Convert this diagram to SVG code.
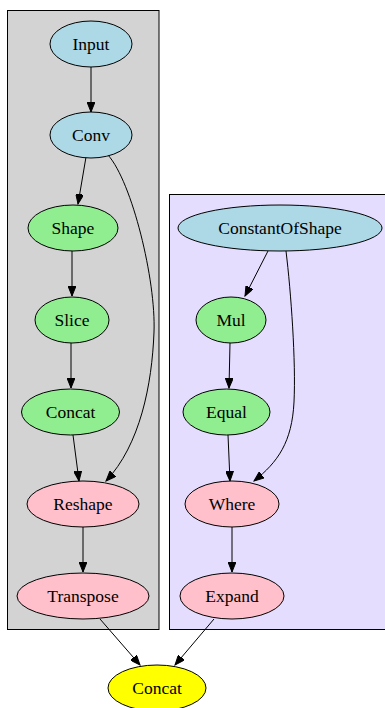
<svg xmlns="http://www.w3.org/2000/svg" width="385" height="708" viewBox="0 0 385 708">
<style>
.n ellipse{stroke:#000;stroke-width:1}
.n text{font-family:"Liberation Serif","Times New Roman",serif;font-size:17.5px;text-anchor:middle;fill:#000}
.blue{fill:#add8e6}.green{fill:#90ee90}.pink{fill:#ffc0cb}.yellow{fill:#ffff00}
#edges path{fill:none;stroke:#000;stroke-width:1;marker-end:url(#ah)}
.cl{stroke:#000;stroke-width:1}
</style>
<defs>
<marker id="ah" markerUnits="userSpaceOnUse" markerWidth="11" markerHeight="8" refX="10" refY="4" orient="auto">
<path d="M0,0 L10,4 L0,8 Z" fill="#000" stroke="#000" stroke-width="1"/>
</marker>
</defs>
<rect width="385" height="708" fill="#fff"/>
<g id="cluster_left"><rect class="cl" x="7.5" y="10.5" width="151.5" height="619" fill="#d3d3d3"/></g>
<g id="cluster_right"><rect class="cl" x="169.5" y="194.5" width="220" height="435" fill="#e5ddfd"/></g>
<g id="edges">
<path d="M91,67 L91,112"/>
<path d="M86,157 L78,204"/>
<path d="M108,155 C132,182 156,280 154,332 C152,385 140,445 106,481"/>
<path d="M72,250 L72,296"/>
<path d="M71,343 L71,388"/>
<path d="M73,435 L79,481"/>
<path d="M83,527 L83,572"/>
<path d="M100,619 L140,665"/>
<path d="M214,619 L175,665"/>
<path d="M268,251 L245,296"/>
<path d="M286,251 C291,292 296,362 294,402 C292,442 278,462 254,481"/>
<path d="M230,343 L229,388"/>
<path d="M228,435 L230,481"/>
<path d="M232,527 L232,572"/>
</g>
<g id="node_input" class="n"><ellipse class="blue" cx="91" cy="44" rx="41" ry="23"/><text x="91" y="50">Input</text></g>
<g id="node_conv" class="n"><ellipse class="blue" cx="91" cy="135" rx="41" ry="23"/><text x="91" y="141">Conv</text></g>
<g id="node_shape" class="n"><ellipse class="green" cx="73" cy="228" rx="45" ry="23"/><text x="73" y="234">Shape</text></g>
<g id="node_slice" class="n"><ellipse class="green" cx="72" cy="320" rx="37" ry="23"/><text x="72" y="326">Slice</text></g>
<g id="node_concat1" class="n"><ellipse class="green" cx="70.5" cy="412" rx="49" ry="23"/><text x="70.5" y="418">Concat</text></g>
<g id="node_reshape" class="n"><ellipse class="pink" cx="83" cy="504" rx="56" ry="23"/><text x="83" y="510">Reshape</text></g>
<g id="node_transpose" class="n"><ellipse class="pink" cx="83" cy="596" rx="66" ry="23"/><text x="83" y="602">Transpose</text></g>
<g id="node_cos" class="n"><ellipse class="blue" cx="280" cy="228" rx="102" ry="23"/><text x="280" y="234">ConstantOfShape</text></g>
<g id="node_mul" class="n"><ellipse class="green" cx="231" cy="320" rx="35" ry="23"/><text x="231" y="326">Mul</text></g>
<g id="node_equal" class="n"><ellipse class="green" cx="226.5" cy="412" rx="43.5" ry="23"/><text x="226.5" y="418">Equal</text></g>
<g id="node_where" class="n"><ellipse class="pink" cx="232" cy="504" rx="47" ry="23"/><text x="232" y="510">Where</text></g>
<g id="node_expand" class="n"><ellipse class="pink" cx="232" cy="596" rx="52" ry="23"/><text x="232" y="602">Expand</text></g>
<g id="node_concat2" class="n"><ellipse class="yellow" cx="157" cy="688" rx="49" ry="23"/><text x="157" y="694">Concat</text></g>
</svg>
